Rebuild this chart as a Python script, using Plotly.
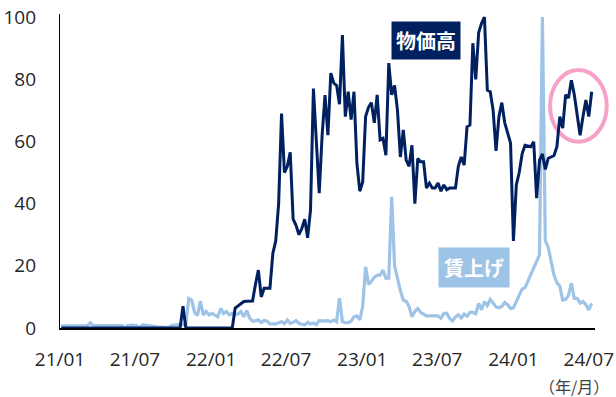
import plotly.graph_objects as go
import pandas as pd

# weekly observations from 2021-01-04
start_date = "2021-01-04"

bukka = [
    0, 0, 0, 0, 0, 0, 0, 0, 0, 0,
    0, 0, 0, 0, 0, 0, 0, 0, 0, 0,
    0, 0, 0, 0, 0, 0, 0, 0, 0, 0,
    0, 0, 0, 0, 0, 0, 0, 0, 0, 0,
    0, 0, 7, 0, 0, 0, 0, 0, 0, 0,
    0, 0, 0, 0, 0, 0, 0, 0, 0, 0,
    6.4, 7.2, 7.7, 8.5, 8.6, 8.7, 8.7, 14, 18.6, 10,
    12.8, 12.8, 12.8, 24, 28, 40, 69, 50, 52, 56.5,
    35, 33, 30, 32, 35, 29, 38, 77, 60, 43.4,
    62, 74.9, 62, 82, 78.8, 78, 72, 94.2, 68, 76,
    67, 76, 53, 44, 47, 68, 71, 72.5, 66, 75,
    60.5, 61, 55.6, 85.2, 75, 78, 70, 55, 63.7, 54,
    52, 58.8, 40, 54.5, 53.5, 53.5, 45, 46.6, 45, 45,
    46.6, 44, 46, 44.5, 45, 45, 45, 52, 55, 52.4,
    64.7, 65.3, 91.6, 80, 95, 98, 100, 76.5, 76, 70,
    57, 68, 72.5, 66, 62.7, 59.5, 28, 46, 50, 56,
    58.8, 58.6, 58.3, 59.9, 41.8, 54, 56, 51, 54.6, 55,
    55.5, 58.3, 68, 64.3, 75, 74, 79.7, 75, 69, 62,
    68, 73.3, 68, 76,
]

chinage = [
    0.7, 0.7, 0.7, 0.7, 0.7, 0.7, 0.7, 0.7, 0.7, 0.7,
    1.7, 0.8, 0.8, 0.8, 0.8, 0.8, 0.8, 0.8, 0.8, 0.8,
    0.8, 0.8, 0, 0.8, 0.9, 0.9, 0.8, 0, 1, 0.9,
    0.7, 0.6, 0.5, 0.4, 0.3, 0.2, 0.1, 0.1, 0.8, 1,
    1, 1, 1, 1.2, 9.5, 9, 5, 4, 8.7, 4.2,
    5.3, 4.2, 4.7, 4, 3.6, 6.3, 4.7, 5.3, 4.2, 4.7,
    4.3, 4.5, 5.3, 3.6, 5.6, 3.2, 2.2, 2.3, 2.6, 1.8,
    2.4, 2.2, 1.3, 1.3, 1.3, 1.7, 2, 1.4, 2.6, 1.5,
    1.8, 2.4, 1.5, 1.2, 1, 1.8, 1.3, 1.6, 1.1, 2.4,
    2.2, 2.3, 2.4, 2, 2.6, 2, 9.6, 2, 1.7, 1.7,
    2.2, 3.6, 3.9, 2.6, 7, 19.7, 14, 15, 16.3, 17,
    17, 18.6, 16, 16, 42.2, 20, 15.5, 12, 9, 8.6,
    6.9, 3.6, 5.3, 6.3, 5, 4.5, 3.9, 3.9, 3.9, 3.9,
    3.9, 3.1, 4.7, 4.7, 3.1, 2.3, 3.6, 4.2, 3.2, 4.5,
    3.8, 5, 5, 4.6, 7.9, 5.9, 8.5, 7.2, 9.2, 8,
    6.8, 6.5, 6.9, 8.2, 7.5, 6.3, 6.5, 8.5, 10.5, 12.5,
    13, 15, 17, 19, 21, 23.5, 100, 28, 26, 22,
    17, 14.5, 13.5, 9, 9.2, 10.5, 14.4, 9.5, 9.5, 8,
    8.5, 7.5, 5.8, 7.9,
]

tick_dates = ["2021-01-01", "2021-07-01", "2022-01-01", "2022-07-01",
              "2023-01-01", "2023-07-01", "2024-01-01", "2024-07-01"]
tick_labels = ["21/01", "21/07", "22/01", "22/07", "23/01", "23/07", "24/01", "24/07"]
y_ticks = [0, 20, 40, 60, 80, 100]

dates = pd.date_range(start_date, periods=len(bukka), freq="7D")

NAVY = "#002060"
LIGHT = "#9dc3e6"
PINK = "#f7a0c8"

fig = go.Figure()
fig.add_trace(go.Scatter(x=dates, y=chinage, mode="lines",
                         line=dict(color=LIGHT, width=3.2), name="賃上げ"))
fig.add_trace(go.Scatter(x=dates, y=bukka, mode="lines",
                         line=dict(color=NAVY, width=3), name="物価高"))

font_family = "Open Sans, Noto Sans CJK JP, sans-serif"

fig.update_layout(
    width=616, height=397,
    margin=dict(l=60, r=21, t=14, b=69, autoexpand=False),
    plot_bgcolor="white", paper_bgcolor="white",
    showlegend=False,
    font=dict(family=font_family, color="#262626", size=19),
    xaxis=dict(
        type="date",
        range=["2021-01-01", "2024-07-16"],
        tickvals=tick_dates, ticktext=tick_labels,
        showgrid=False, zeroline=False,
        showline=True, linecolor="black", linewidth=2,
        ticks="", ticklabelstandoff=13,
        tickfont=dict(size=19),
        automargin=False,
    ),
    yaxis=dict(
        range=[0, 101],
        tickvals=y_ticks,
        showgrid=False, zeroline=False,
        showline=True, linecolor="black", linewidth=1.2,
        ticks="", ticklabelstandoff=19,
        tickfont=dict(size=19),
        automargin=False,
    ),
)

# series labels
fig.add_annotation(x="2023-06-05", y=92.5, xref="x", yref="y",
                   text="<b>物価高</b>", showarrow=False,
                   font=dict(color="white", size=20, family="Noto Sans CJK JP"),
                   bgcolor=NAVY, borderpad=4)
fig.add_annotation(x="2023-09-28", y=19.5, xref="x", yref="y",
                   text="<b>賃上げ</b>", showarrow=False,
                   font=dict(color="white", size=20, family="Noto Sans CJK JP"),
                   bgcolor=LIGHT, borderpad=5)

# unit label
fig.add_annotation(x=1.03, y=-0.185, xref="paper", yref="paper",
                   xanchor="right", yanchor="middle",
                   text="（年/月）", showarrow=False,
                   font=dict(size=16, color="#404040", family="Noto Sans CJK JP"))

# highlight circle (annotation, drawn under the lines)
fig.add_shape(type="circle", xref="paper", yref="paper",
              x0=0.916, x1=1.022, y0=0.593, y1=0.822,
              line=dict(color=PINK, width=4), layer="below")

fig.write_html("out.html")
